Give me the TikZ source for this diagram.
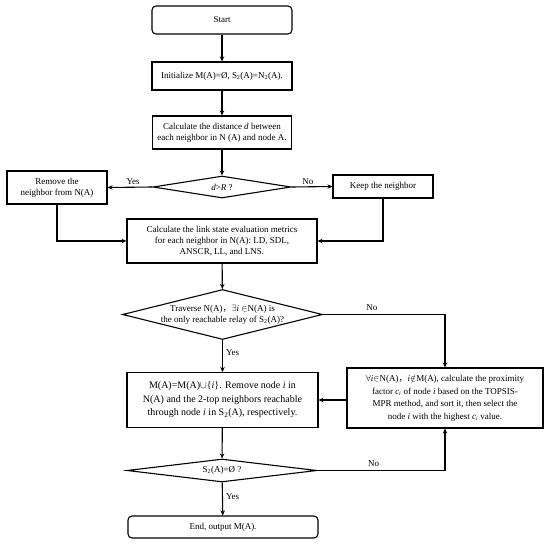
\documentclass[tikz,border=0pt]{standalone}
\usepackage{fontspec}
\setmainfont{Liberation Serif}
\newfontfamily\cjk{Noto Sans CJK SC}
\usetikzlibrary{shapes.geometric,arrows.meta}
\newcommand{\fwc}{{\cjk ，}}
\begin{document}
\begin{tikzpicture}[x=1pt,y=-1pt,
  every node/.style={font=\fontsize{9}{11}\selectfont, align=center, inner sep=0pt},
  box/.style={draw, line width=1.1pt, minimum width=#1},
  rbox/.style={draw, line width=1.1pt, rounded corners=4pt, minimum width=#1},
  dia/.style={draw, line width=1.1pt, diamond, aspect=#1},
  conn/.style={line width=1.1pt, -{Stealth[length=5pt,width=4.5pt]}},
  lab/.style={font=\fontsize{9}{11}\selectfont}]
\useasboundingbox (0,0) rectangle (550,544);
\node[rbox=140pt, minimum height=28pt] (start) at (222,20) {Start};
\node[box=140pt, minimum height=28pt] (init) at (222,76) {Initialize M(A)=Ø, S\textsubscript{2}(A)=N\textsubscript{2}(A).};
\node[box=139pt, minimum height=33pt] (dist) at (222,132.5) {Calculate the distance \textit{d} between\\each neighbor in N (A) and node A.};
\node[dia=6.3, minimum width=138pt, minimum height=22pt] (d1) at (222,187) {\textit{d}>\textit{R} ?};
\node[box=100pt, minimum height=33pt] (remove) at (57,187.5) {Remove the\\neighbor from N(A)};
\node[box=100pt, minimum height=23pt] (keep) at (383,186.5) {Keep the neighbor};
\node[box=190pt, minimum height=44pt] (link) at (222,241) {Calculate the link state evaluation metrics\\for each neighbor in N(A): LD, SDL,\\ANSCR, LL, and LNS.};
\node[dia=4, minimum width=197pt, minimum height=49pt] (d2) at (222.5,314.5) {Traverse N(A)\fwc{}$\exists$\textit{i} $\in$N(A) is\\the only reachable relay of S\textsubscript{2}(A)?};
\node[box=191pt, minimum height=55pt, font=\fontsize{10}{13.5}\selectfont] (mbox) at (222.5,400) {M(A)=M(A)$\cup$\{\textit{i}\}. Remove node \textit{i} in\\N(A) and the 2-top neighbors reachable\\through node \textit{i} in S\textsubscript{2}(A), respectively.};
\node[box=196pt, minimum height=60pt, font=\fontsize{9}{12.5}\selectfont] (fbox) at (445,398) {$\forall$\textit{i}$\in$N(A)\fwc\textit{i}$\notin$M(A), calculate the proximity\\factor \textit{c\textsubscript{i}} of node \textit{i} based on the TOPSIS-\\MPR method, and sort it, then select the\\node \textit{i} with the highest \textit{c\textsubscript{i}} value.};
\node[dia=8.2, minimum width=190pt, minimum height=23pt] (d3) at (222,470.5) {S\textsubscript{2}(A)=Ø ?};
\node[rbox=190pt, minimum height=22pt] (end) at (223,527) {End, output M(A).};
\draw[conn] (start) -- (init);
\draw[conn] (init) -- (dist);
\draw[conn] (dist) -- (d1);
\draw[conn] (d1.west) -- node[lab, above=2pt, pos=0.43] {Yes} (remove.east);
\draw[conn] (d1.east) -- node[lab, above=2pt, pos=0.4] {No} (keep.west);
\draw[conn] (remove.south) |- (link.west);
\draw[conn] (keep.south) |- (link.east);
\draw[conn] (link) -- (d2);
\draw[conn] (d2) -- node[lab, right=3pt, pos=0.4] {Yes} (mbox);
\draw[conn] (d2.east) -| node[lab, above=3pt, pos=0.2] {No} (fbox.north);
\draw[conn] (fbox.west |- mbox.east) -- (mbox.east);
\draw[conn] (mbox) -- (d3);
\draw[conn] (d3.east) -| node[lab, above=3pt, pos=0.22] {No} (fbox.south);
\draw[conn] (d3) -- node[lab, right=3pt, pos=0.42] {Yes} (end);
\end{tikzpicture}
\end{document}
